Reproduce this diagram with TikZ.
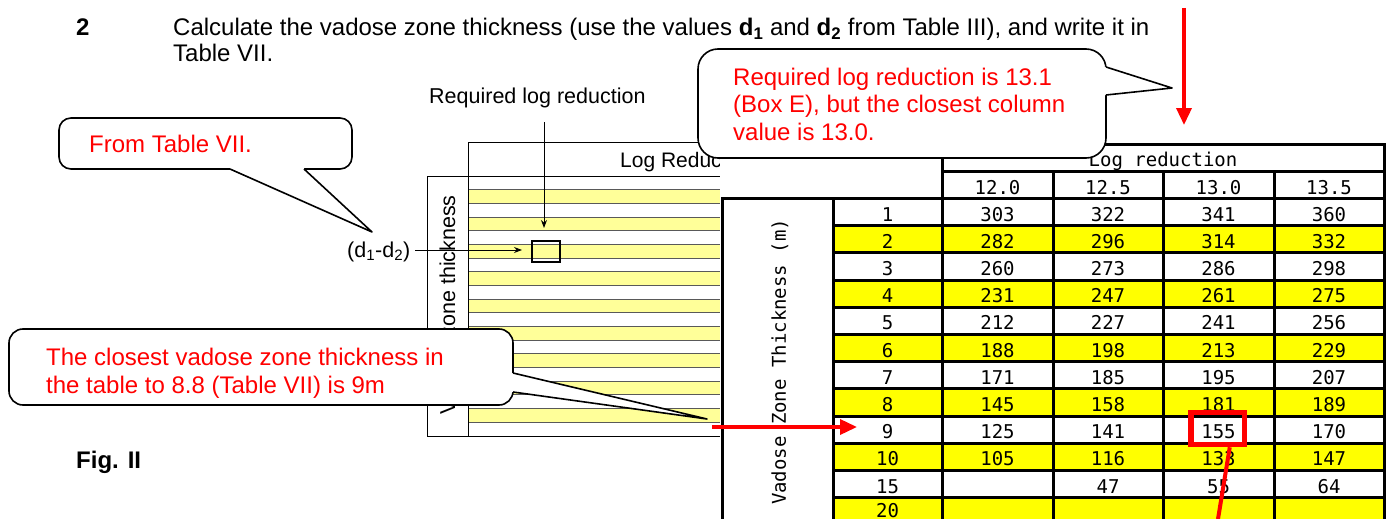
\documentclass[tikz,border=0pt]{standalone}
\usepackage{fontspec}
\setmainfont{Liberation Sans}
\newfontfamily\tabfont{DejaVu Sans Mono}
\usetikzlibrary{arrows.meta}
\definecolor{paleyellow}{HTML}{FFFF99}
\definecolor{tabyellow}{HTML}{FFFF00}
\begin{document}
\begin{tikzpicture}[x=1pt,y=-1pt,
  txt/.style={inner sep=0pt, anchor=base west, font=\fontsize{24}{28}\selectfont},
  smalltxt/.style={inner sep=0pt, anchor=base west, font=\fontsize{21.5}{25}\selectfont},
  redtxt/.style={txt, text=red},
  bubble/.style={draw=black, line width=1.6pt, fill=white},
  tailline/.style={draw=black, line width=1.6pt, line join=round},
  thinline/.style={draw=black, line width=0.9pt},
  stripe/.style={draw=black!65, line width=0.9pt},
  tline/.style={draw=black, line width=3pt, line cap=rect},
  cell/.style={inner sep=0pt, anchor=base, font=\tabfont\fontsize{19}{22}\selectfont},
  redarrow/.style={draw=red, line width=3.5pt, -{Triangle[length=17pt,width=15pt]}},
  redline/.style={draw=red, line width=4pt},
  blackarrow/.style={draw=black, line width=1pt, -{Stealth[length=8pt,width=6pt]}}]

\useasboundingbox (0,0) rectangle (1389,519);
\fill[white] (0,0) rectangle (1389,519);

% heading
\node[txt, font=\fontsize{24}{28}\selectfont\bfseries] (num) at (76,36) {2};
\node[txt] (line1) at (173,36) {Calculate the vadose zone thickness (use the values \textbf{d\textsubscript{1}} and \textbf{d\textsubscript{2}} from Table III), and write it in};
\node[txt] (line2) at (173,61.5) {Table VII.};
\node[txt, font=\fontsize{24}{28}\selectfont\bfseries] (fig) at (76,468) {Fig. II};

% small background figure
\foreach \i in {1,3,...,17}
  \fill[paleyellow] (468,{176+\i*13.684}) rectangle (730,{176+(\i+1)*13.684});
\foreach \i in {1,...,18}
  \draw[stripe] (468,{176+\i*13.684}) -- (730,{176+\i*13.684});
\draw[thinline] (468,142) -- (730,142);
\draw[thinline] (468,176) -- (730,176);
\draw[thinline] (468,436) -- (730,436);
\draw[thinline] (427,176) rectangle (468,436);
\draw[thinline] (468,142) -- (468,176);
\node[inner sep=0pt, anchor=base west, font=\fontsize{21}{25}\selectfont] (logred) at (620,167) {Log Reduction};
\node[inner sep=0pt, rotate=90, font=\fontsize{21.5}{25}\selectfont] (vzsmall) at (447.5,305) {Vadose zone thickness};
\node[draw=black, line width=2pt, minimum width=28pt, minimum height=21pt, inner sep=0pt] (selbox) at (546,251.5) {};

% big table
\fill[white] (720,140) rectangle (1389,519);
\foreach \r in {2,4,...,12}
  \fill[tabyellow] (833,{198.5+(\r-1)*27.2}) rectangle (1384,{198.5+\r*27.2});
\draw[tline] (942,144) -- (1384,144);
\draw[tline] (942,171.5) -- (1384,171.5);
\draw[tline] (722,198.5) -- (1384,198.5);
\foreach \r in {1,...,12}
  \draw[tline] (833,{198.5+\r*27.2}) -- (1384,{198.5+\r*27.2});
\draw[tline] (722,198.5) -- (722,530);
\draw[tline] (833,198.5) -- (833,530);
\draw[tline] (942,144) -- (942,530);
\foreach \x in {1053,1163,1274}
  \draw[tline] (\x,171.5) -- (\x,530);
\draw[tline] (1384,144) -- (1384,530);

\node[cell] (lrhead) at (1163,166) {Log reduction};
\foreach \v/\x [count=\k] in {12.0/997.5,12.5/1108,13.0/1218.5,13.5/1329}
  \node[cell] (h\k) at (\x,194) {\v};
\node[inner sep=0pt, rotate=90, font=\tabfont\fontsize{19}{22}\selectfont] (vzt) at (780,362) {Vadose Zone Thickness (m)};
\foreach \lab/\a/\b/\c/\d [count=\r] in {1/303/322/341/360, 2/282/296/314/332, 3/260/273/286/298, 4/231/247/261/275, 5/212/227/241/256, 6/188/198/213/229, 7/171/185/195/207, 8/145/158/181/189, 9/125/141/155/170, 10/105/116/133/147, 15//47/55/64, 20////}{
  \pgfmathsetmacro\yb{min(198.5+(\r-1)*27.2+22.5,517)}
  \node[cell] (n\r) at (887.5,\yb) {\lab};
  \node[cell] (a\r) at (997.5,\yb) {\a};
  \node[cell] (b\r) at (1108,\yb) {\b};
  \node[cell] (c\r) at (1218.5,\yb) {\c};
  \node[cell] (d\r) at (1329,\yb) {\d};
}

% black annotations
\node[smalltxt] (req) at (429,103) {Required log reduction};
\coordinate (reqstart) at (544,122);
\coordinate (reqtip) at (544,228);
\draw[blackarrow] (reqstart) -- (reqtip);
\node[smalltxt] (dd) at (347,257) {(d\textsubscript{1}-d\textsubscript{2})};
\coordinate (ddstart) at (415,250);
\coordinate (ddtip) at (522,250);
\draw[blackarrow] (ddstart) -- (ddtip);

% callout: From Table VII.
\draw[bubble, rounded corners=12pt] (59,118) rectangle (352,169);
\fill[white] (230,165) -- (304,165) -- (304,169) -- (372,232) -- (230,169) -- cycle;
\coordinate (fromtip) at (372,232);
\draw[tailline] (230,169) -- (fromtip) -- (304,169);
\node[redtxt] (fromtxt) at (89,152) {From Table VII.};

% callout: closest vadose zone thickness
\draw[bubble, rounded corners=14pt] (9,329) rectangle (513,405);
\fill[white] (509,373) -- (513,373) -- (707,419) -- (513,392) -- (509,392) -- cycle;
\coordinate (bltip) at (707,419);
\draw[tailline] (513,373) -- (bltip) -- (513,392);
\node[redtxt] (bl1) at (46,365) {The closest vadose zone thickness in};
\node[redtxt] (bl2) at (46,393) {the table to 8.8 (Table VII) is 9m};

% callout: required log reduction
\draw[bubble, rounded corners=20pt] (698,49) rectangle (1106,158);
\fill[white] (1102,67) -- (1106,67) -- (1172,88) -- (1106,95) -- (1102,95) -- cycle;
\coordinate (trtip) at (1172,88);
\draw[tailline] (1106,67) -- (trtip) -- (1106,95);
\node[redtxt] (tr1) at (733,85) {Required log reduction is 13.1};
\node[redtxt] (tr2) at (733,112.5) {(Box E), but the closest column};
\node[redtxt] (tr3) at (733,140) {value is 13.0.};

% red marks
\coordinate (topstart) at (1184,8);
\coordinate (toptip) at (1184,125);
\draw[redarrow] (topstart) -- (toptip);
\coordinate (rowstart) at (712,427);
\coordinate (rowtip) at (857,427);
\draw[redarrow] (rowstart) -- (rowtip);
\node[draw=red, line width=5.5pt, minimum width=53.5pt, minimum height=32pt, inner sep=0pt] (hl) at (1217.75,428.5) {};
\coordinate (hlend) at (1218,519);
\draw[redline] ([xshift=12pt]hl.south) -- (hlend);
\end{tikzpicture}
\end{document}
